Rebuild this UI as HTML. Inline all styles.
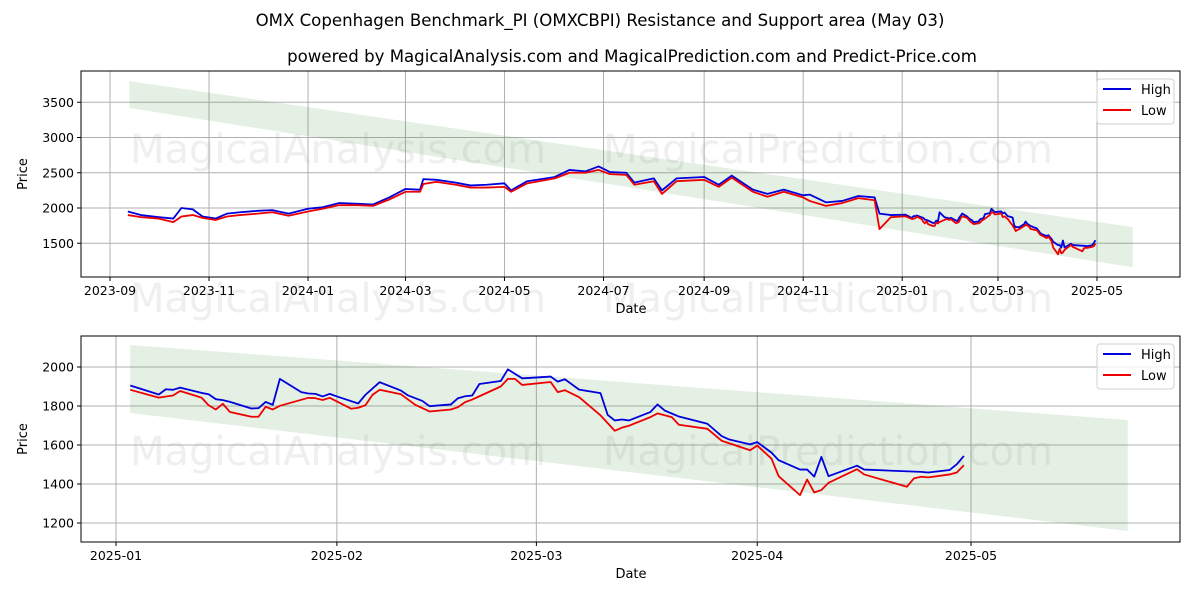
<!DOCTYPE html>
<html><head><meta charset="utf-8"><style>
body{margin:0;background:#fff;}
svg{display:block;font-family:"DejaVu Sans","Liberation Sans",sans-serif;}
</style></head><body>
<svg id="chart" width="1200" height="600" viewBox="0 0 1200 600" xmlns="http://www.w3.org/2000/svg">
<text x="600" y="26" text-anchor="middle" font-size="16.6">OMX Copenhagen Benchmark_PI (OMXCBPI) Resistance and Support area (May 03)</text>
<text x="632" y="62" text-anchor="middle" font-size="16.6">powered by MagicalAnalysis.com and MagicalPrediction.com and Predict-Price.com</text>
<g id="top"></g>
<g id="bot"></g>
</svg>
<script>
const earlyDates=["2023-09-12","2023-09-20","2023-10-01","2023-10-10","2023-10-15","2023-10-22","2023-10-28","2023-11-05","2023-11-12","2023-11-20","2023-12-01","2023-12-10","2023-12-20","2024-01-01","2024-01-10","2024-01-20","2024-02-01","2024-02-10","2024-02-20","2024-03-01","2024-03-10","2024-03-12","2024-03-20","2024-04-01","2024-04-10","2024-04-20","2024-05-01","2024-05-05","2024-05-15","2024-06-01","2024-06-10","2024-06-20","2024-06-28","2024-07-05","2024-07-15","2024-07-20","2024-08-01","2024-08-06","2024-08-15","2024-09-01","2024-09-10","2024-09-18","2024-10-01","2024-10-10","2024-10-20","2024-11-01","2024-11-05","2024-11-15","2024-11-25","2024-12-05","2024-12-15","2024-12-18","2024-12-25"];
const earlyHigh=[1950,1900,1870,1850,2000,1980,1880,1850,1920,1940,1960,1970,1920,1990,2010,2070,2060,2050,2150,2270,2260,2410,2400,2360,2320,2330,2350,2250,2380,2440,2540,2520,2590,2510,2500,2360,2420,2250,2420,2440,2330,2460,2260,2200,2260,2180,2190,2080,2100,2170,2150,1920,1900];
const earlyLow=[1900,1870,1850,1800,1880,1900,1860,1830,1880,1900,1920,1940,1890,1950,1990,2040,2040,2030,2120,2230,2230,2340,2370,2330,2290,2290,2300,2230,2350,2420,2500,2500,2540,2480,2470,2330,2380,2200,2380,2400,2300,2430,2230,2160,2230,2150,2100,2030,2070,2140,2110,1700,1870];
const highDays=[2,6,7,8,9,12,13,14,15,16,19,20,21,22,23,26,27,28,29,30,31,34,35,37,40,41,43,44,47,48,49,50,51,54,55,57,58,61,62,63,65,68,69,70,71,72,75,76,77,79,83,85,86,89,90,92,93,96,97,98,99,100,104,105,113,114,117,118,119];
const highVals=[1905,1859,1886,1883,1894,1867,1860,1835,1830,1821,1787,1789,1821,1806,1939,1871,1864,1862,1849,1862,1849,1813,1857,1922,1879,1854,1826,1799,1808,1840,1850,1854,1913,1928,1988,1942,1944,1951,1925,1937,1884,1866,1755,1726,1731,1726,1769,1808,1777,1746,1709,1646,1629,1603,1615,1561,1522,1474,1474,1438,1539,1440,1494,1474,1462,1459,1472,1501,1544];
const lowDays=[2,6,8,9,12,13,14,15,16,19,20,21,22,23,27,28,29,30,33,34,35,36,37,40,42,44,47,48,49,50,51,54,55,56,57,61,62,63,65,68,70,71,72,75,76,78,79,83,85,89,90,92,93,96,97,98,99,100,104,105,111,112,113,114,117,118,119];
const lowVals=[1883,1843,1854,1877,1843,1804,1782,1811,1769,1745,1745,1796,1782,1801,1842,1840,1831,1842,1786,1791,1804,1857,1883,1860,1806,1772,1782,1794,1820,1833,1850,1900,1939,1939,1908,1923,1871,1881,1845,1752,1673,1689,1699,1743,1762,1743,1704,1683,1622,1573,1597,1530,1440,1343,1423,1357,1369,1406,1476,1449,1386,1429,1437,1434,1449,1459,1496];
const bandDates=["2023-09-13","2025-05-23"];
const bandUpper=[3800,1728];
const bandLower=[3420,1159];
const band2Dates=["2025-01-03","2025-05-23"];
const band2Upper=[2113,1728];
const band2Lower=[1764,1159];
const topYTicks=[1500,2000,2500,3000,3500];
const topXTicks=["2023-09","2023-11","2024-01","2024-03","2024-05","2024-07","2024-09","2024-11","2025-01","2025-03","2025-05"];
const botYTicks=[1200,1400,1600,1800,2000];
const botXTicks=["2025-01","2025-02","2025-03","2025-04","2025-05"];

const NS="http://www.w3.org/2000/svg";
const DAY=86400000;
function t(s){const p=s.split("-");return Date.UTC(+p[0],+p[1]-1,p[2]?+p[2]:1)/DAY;}
const T25=t("2025-01-01");
function mk(par,tag,at,txt){const e=document.createElementNS(NS,tag);for(const k in at)e.setAttribute(k,at[k]);if(txt!==undefined)e.textContent=txt;par.appendChild(e);return e;}

function panel(g,cfg){
  const L=81,R=1180,Tp=cfg.top,B=cfg.bottom;
  const x=d=>cfg.x0+(d-cfg.d0)*cfg.pxd;
  const y=v=>cfg.y0-(v-cfg.v0)*cfg.pxv;
  cfg.wm.forEach(w=>{const e=mk(g,"text",{x:w[0],y:w[1],"font-size":40,fill:"#e4e4e4","fill-opacity":"0.6"},w[2]);
    
    });
  cfg.xt.forEach(s=>{const X=x(t(s));
    const l=mk(g,"line",{x1:X,x2:X,y1:Tp,y2:B,stroke:"#b0b0b0","stroke-width":1});
    
    
    mk(g,"line",{x1:X,x2:X,y1:B,y2:B+4,stroke:"#000"});
    const tx=mk(g,"text",{x:X,y:B+18,"text-anchor":"middle","font-size":12.5},s);
    
    });
  cfg.yt.forEach(v=>{const Y=y(v);
    const l=mk(g,"line",{x1:L,x2:R,y1:Y,y2:Y,stroke:"#b0b0b0","stroke-width":1});
    
    
    mk(g,"line",{x1:L-4,x2:L,y1:Y,y2:Y,stroke:"#000"});
    const tx=mk(g,"text",{x:L-7,y:Y+4.5,"text-anchor":"end","font-size":12.5},v);
    
    });
  const bx0=x(t(cfg.bd[0])),bx1=x(t(cfg.bd[1]));
  const band=mk(g,"polygon",{points:`${bx0},${y(cfg.bu[0])} ${bx1},${y(cfg.bu[1])} ${bx1},${y(cfg.bl[1])} ${bx0},${y(cfg.bl[0])}`,fill:"#2e8b2e","fill-opacity":"0.13"});
  
  
  const line=(ds,vs,col,name)=>{const p=mk(g,"polyline",{points:ds.map((d,i)=>x(d)+","+y(vs[i])).join(" "),fill:"none",stroke:col,"stroke-width":1.8,"stroke-linejoin":"round"});
    
    };
  line(cfg.hd,cfg.hv,"#0000dd","high-line");
  line(cfg.ld,cfg.lv,"#ee0000","low-line");
  const fr=mk(g,"rect",{x:L,y:Tp,width:R-L,height:B-Tp,fill:"none",stroke:"#000","stroke-width":1});
  
  
  const xl=mk(g,"text",{x:631,y:B+36,"text-anchor":"middle","font-size":13},"Date");
  
  
  const yl=mk(g,"text",{x:0,y:0,"text-anchor":"middle","font-size":13,transform:`translate(${cfg.ylx},${(Tp+B)/2}) rotate(-90)`},"Price");
  
  
  const lg=mk(g,"g",{});
  
  
  mk(lg,"rect",{x:1097,y:Tp+8,width:77,height:45,rx:3,fill:"#fff","fill-opacity":"0.8",stroke:"#d0d0d0"});
  [["High","#0000dd"],["Low","#ee0000"]].forEach((it,i)=>{const yy=Tp+22+i*21;
    const e=mk(lg,"g",{});
    
    
    mk(e,"line",{x1:1103,x2:1131,y1:yy-4,y2:yy-4,stroke:it[1],"stroke-width":2});
    mk(e,"text",{x:1141,y:yy+1,"font-size":13},it[0]);});
}
const allHD=earlyDates.map(t).concat(highDays.map(d=>T25+d));
const allLD=earlyDates.map(t).concat(lowDays.map(d=>T25+d));
panel(document.getElementById("top"),{top:71,bottom:277,x0:110,d0:t("2023-09-01"),pxd:987/(t("2025-05-01")-t("2023-09-01")),
  y0:208,v0:2000,pxv:35.25/500,xt:topXTicks,yt:topYTicks,ylx:27,
  bd:bandDates,bu:bandUpper,bl:bandLower,
  hd:allHD,hv:earlyHigh.concat(highVals),ld:allLD,lv:earlyLow.concat(lowVals),
  wm:[[130,163,"MagicalAnalysis.com"],[603,163,"MagicalPrediction.com"],[130,312,"MagicalAnalysis.com"],[603,312,"MagicalPrediction.com"]]});
panel(document.getElementById("bot"),{top:336,bottom:542,x0:116,d0:T25,pxd:(971-116)/120,
  y0:367,v0:2000,pxv:39/200,xt:botXTicks,yt:botYTicks,ylx:27,
  bd:band2Dates,bu:band2Upper,bl:band2Lower,
  hd:highDays.map(d=>T25+d),hv:highVals,ld:lowDays.map(d=>T25+d),lv:lowVals,
  wm:[[130,465,"MagicalAnalysis.com"],[603,465,"MagicalPrediction.com"]]});
</script>
</body></html>
